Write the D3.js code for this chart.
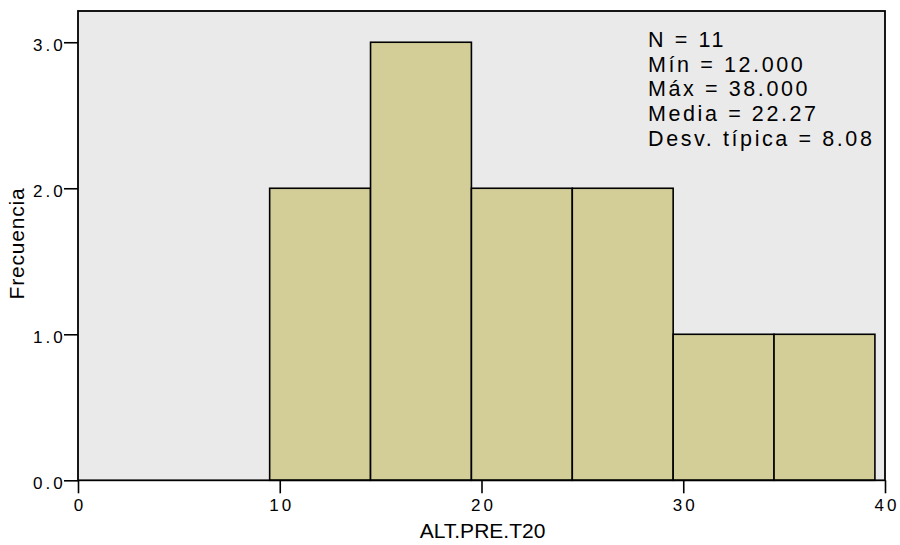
<!DOCTYPE html>
<html><head><meta charset="utf-8">
<script src="https://cdn.jsdelivr.net/npm/d3@7"></script>
<style>
body{margin:0;background:#fff;}
text{font-family:"Liberation Sans",Arial,sans-serif;fill:#000;}
</style></head><body>
<svg id="c" width="900" height="545"></svg>
<script>
const binStarts = [9.5, 14.5, 19.5, 24.5, 29.5, 34.5];
const binWidth = 5;
const counts = [2, 3, 2, 2, 1, 1];
const xTicks = [0, 10, 20, 30, 40];
const yTicks = [0, 1, 2, 3];
const statsLines = ["N = 11", "Mín = 12.000", "Máx = 38.000", "Media = 22.27", "Desv. típica = 8.08"];
const xLabel = "ALT.PRE.T20";
const yLabel = "Frecuencia";

const svg = d3.select("#c");
const L = 78, R = 885, T = 11, B = 480.3;
const x = d3.scaleLinear().domain([0, 40]).range([L, R]);
const y = d3.scaleLinear().domain([0, 3.214]).range([B, T]);
const FONT = '"Liberation Sans",Arial,sans-serif';

svg.append("rect").attr("x", L).attr("y", T).attr("width", R - L).attr("height", B - T)
  .attr("fill", "#eaeaea");

svg.selectAll("rect.bar").data(counts).enter().append("rect").attr("class", "bar")
  .attr("x", (d, i) => x(binStarts[i]))
  .attr("y", d => y(d))
  .attr("width", (d, i) => x(binStarts[i] + binWidth) - x(binStarts[i]))
  .attr("height", d => B - y(d))
  .attr("fill", "#d3ce98").attr("stroke", "#000").attr("stroke-width", 1.6);

svg.append("rect").attr("x", L).attr("y", T).attr("width", R - L).attr("height", B - T)
  .attr("fill", "none").attr("stroke", "#000").attr("stroke-width", 1.8);

const xa = svg.append("g").attr("transform", `translate(0,${B})`)
  .call(d3.axisBottom(x).tickValues(xTicks).tickFormat(d3.format("d")).tickSize(13).tickPadding(6));
xa.select(".domain").remove();
xa.selectAll("line").attr("stroke", "#000").attr("stroke-width", 1.6);
xa.selectAll("text").attr("font-size", 17).attr("letter-spacing", 3.2).attr("dx", 1.6)
  .attr("fill", "#000").attr("font-family", FONT);

const ya = svg.append("g").attr("transform", `translate(${L},0)`)
  .call(d3.axisLeft(y).tickValues(yTicks).tickFormat(d3.format(".1f")).tickSize(14).tickPadding(-1.7));
ya.select(".domain").remove();
ya.selectAll("line").attr("stroke", "#000").attr("stroke-width", 1.6);
ya.selectAll("text").attr("font-size", 17).attr("letter-spacing", 3).attr("dy", "0.5em")
  .attr("fill", "#000").attr("font-family", FONT);

svg.append("text").attr("x", 482.5).attr("y", 538).attr("text-anchor", "middle")
  .attr("font-size", 21).text(xLabel);
svg.append("text").attr("transform", `translate(24,243.5) rotate(-90)`)
  .attr("text-anchor", "middle").attr("font-size", 21).attr("letter-spacing", 0.8).text(yLabel);

const st = svg.append("g");
statsLines.forEach((s, i) => {
  st.append("text").attr("x", 648).attr("y", 46.8 + i * 24.8).attr("font-size", 21.5)
    .attr("letter-spacing", 2.6).text(s);
});
</script>
</body></html>
